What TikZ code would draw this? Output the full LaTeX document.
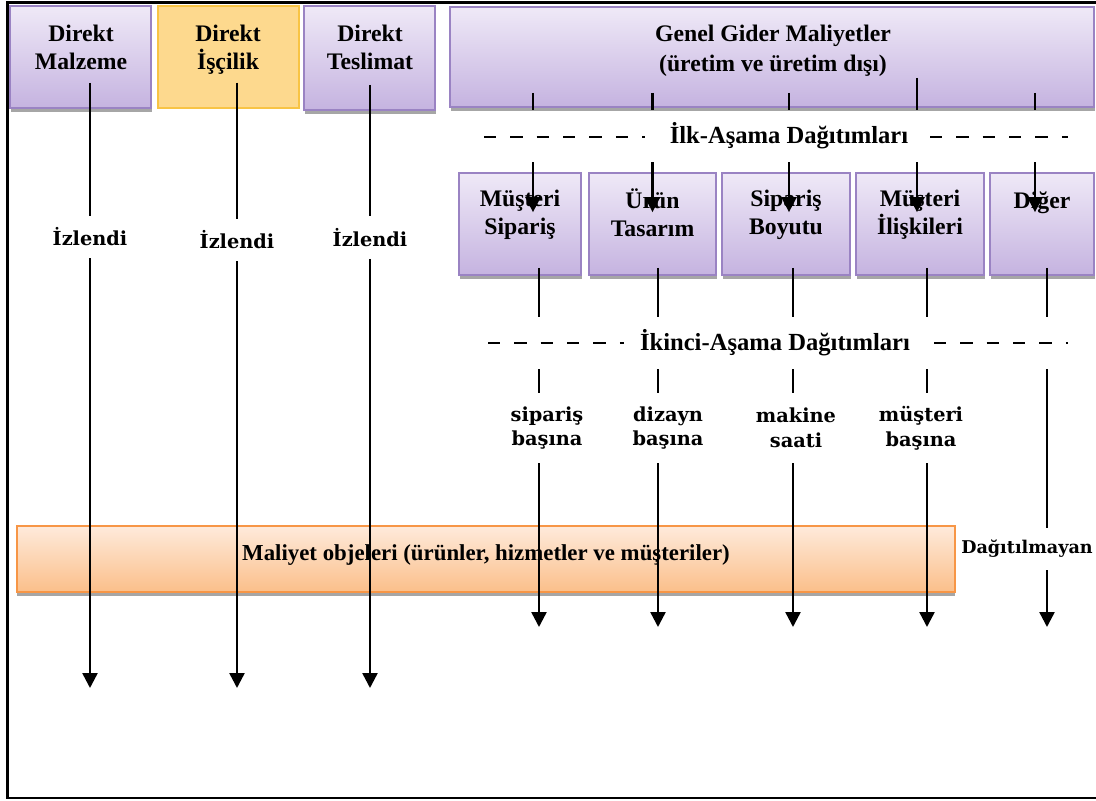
\documentclass[tikz,border=0pt]{standalone}
\usepackage{fontspec}
\setmainfont{Liberation Serif}
\newfontfamily\lblfont{DejaVu Serif}
\usetikzlibrary{arrows.meta,shadows,calc}

\definecolor{purpTop}{HTML}{EFE9F7}
\definecolor{purpBot}{HTML}{C5B3E0}
\definecolor{purpLine}{HTML}{9A83C3}
\definecolor{yelFill}{HTML}{FDD98E}
\definecolor{yelLine}{HTML}{F8C445}
\definecolor{orTop}{HTML}{FEEADB}
\definecolor{orBot}{HTML}{FBBF8A}
\definecolor{orLine}{HTML}{F79646}

\tikzset{
  purpbox/.style={draw=purpLine, line width=1pt, top color=purpTop, bottom color=purpBot,
    drop shadow={shadow xshift=0.6pt, shadow yshift=-2pt, fill=black!35, opacity=1}},
  yelbox/.style={draw=yelLine, line width=0.8pt, fill=yelFill},
  orbox/.style={draw=orLine, line width=1pt, top color=orTop, bottom color=orBot,
    drop shadow={shadow xshift=0pt, shadow yshift=-2.5pt, fill=black!35, opacity=1}},
  boxtext/.style={align=center, font=\bfseries\fontsize{13.5}{16}\selectfont,
    execute at begin node=\strut, execute at end node=\strut},
  bandtext/.style={font=\bfseries\fontsize{14}{16}\selectfont, minimum height=1.04cm},
  lbl/.style={align=center, inner sep=2pt, font=\lblfont\bfseries\fontsize{11}{14}\selectfont},
  dashln/.style={line width=0.9pt, dash pattern=on 7pt off 8pt},
  cline/.style={line width=1.4pt},
  flow/.style={cline, arrows={-Triangle[length=8.5pt, width=8.5pt]}}
}

\begin{document}
\begin{tikzpicture}[x=0.02cm, y=-0.02cm]
\useasboundingbox (0,0) rectangle (1096,801);

% frame
\draw[line width=1.5pt] (1096,2.5) -- (7.5,2.5) -- (7.5,798) -- (1096,798);

% direct costs
\node[purpbox, minimum width=2.82cm, minimum height=2.04cm] (dm) at (80.5,57) {};
\node[yelbox, minimum width=2.82cm, minimum height=2.04cm] (di) at (228.5,57) {};
\node[purpbox, minimum width=2.62cm, minimum height=2.08cm] (dt) at (369.5,58) {};
\node[boxtext] (dmT) at (81,51.5) {Direkt\\Malzeme};
\node[boxtext] (diT) at (228,51.5) {Direkt\\İşçilik};
\node[boxtext] (dtT) at (370,51.5) {Direkt\\Teslimat};

% overhead
\node[purpbox, minimum width=12.88cm, minimum height=2cm] (ggm) at (772,57) {};
\node[boxtext, font=\bfseries\fontsize{13.5}{17}\selectfont] (ggmT) at (773,53)
  {Genel Gider Maliyetler\\(üretim ve üretim dışı)};

% activity cost pools
\node[purpbox, minimum width=2.44cm, minimum height=2.04cm] (ms) at (520,224) {};
\node[purpbox, minimum width=2.54cm, minimum height=2.04cm] (ut) at (652.5,224) {};
\node[purpbox, minimum width=2.56cm, minimum height=2.04cm] (sbo) at (786,224) {};
\node[purpbox, minimum width=2.56cm, minimum height=2.04cm] (mi) at (920,224) {};
\node[purpbox, minimum width=2.08cm, minimum height=2.04cm] (dg) at (1042,224) {};
\node[boxtext] (msT) at (520,216.5) {Müşteri\\Sipariş};
\node[boxtext] (utT) at (652.5,216.5) {Ürün\\Tasarım};
\node[boxtext] (sboT) at (786,216.5) {Sipariş\\Boyutu};
\node[boxtext] (miT) at (920,216.5) {Müşteri\\İlişkileri};
\node[boxtext] (dgT) at (1042,203) {Diğer};

% cost objects
\node[orbox, minimum width=18.76cm, minimum height=1.32cm] (mo) at (486,559) {};
\node[boxtext, font=\bfseries\fontsize{13}{16}\selectfont] (moT) at (486,555)
  {Maliyet objeleri (ürünler, hizmetler ve müşteriler)};

% allocation bands
\node[bandtext] (ilk) at (789,136) {İlk-Aşama Dağıtımları};
\node[bandtext] (ikinci) at (775,343) {İkinci-Aşama Dağıtımları};
\draw[dashln] (484,137) -- (645,137);
\draw[dashln] (930,137) -- (1068,137);
\draw[dashln] (488,343) -- (624,343);
\draw[dashln] (934,343) -- (1068,343);

% labels
\node[lbl, minimum height=0.84cm] (iz1) at (90,237) {İzlendi};
\node[lbl, minimum height=0.84cm] (iz2) at (237,240) {İzlendi};
\node[lbl, minimum height=0.84cm] (iz3) at (370,237.5) {İzlendi};
\node[lbl, minimum height=1.4cm] (sb1) at (547,428) {sipariş\\başına};
\node[lbl, minimum height=1.4cm] (sb2) at (668,428) {dizayn\\başına};
\node[lbl, minimum height=1.4cm] (sb3) at (796,428) {makine\\saati};
\node[lbl, minimum height=1.4cm] (sb4) at (921,428) {müşteri\\başına};
\node[lbl, minimum height=0.84cm, font=\lblfont\bfseries\fontsize{10}{12}\selectfont] (dgl) at (1027,549) {Dağıtılmayan};

\coordinate (bot) at (0,688);
\coordinate (bot2) at (0,627);

% traced costs
\foreach \b/\l in {dm/iz1, di/iz2, dt/iz3}{
  \draw[cline] (\l |- \b.south) ++(0,-26) -- (\l);
  \draw[flow] (\l) -- (\l |- bot);
}

% first stage
\foreach \c/\dx/\dy in {ms/13/15, ut/0/15, sbo/3/15, mi/-3/30, dg/-7/15}{
  \coordinate (t) at ($(\c.north)+(\dx,0)$);
  \draw[cline] (t |- ggm.south) ++(0,-\dy) -- (t |- ilk.north);
  \draw[flow] (t |- ilk.south) -- ($(t)+(0,40)$);
}

% second stage
\foreach \c/\l/\dx in {ms/sb1/-8, ut/sb2/-10, sbo/sb3/-3, mi/sb4/6}{
  \coordinate (u) at ($(\l)+(\dx,0)$);
  \draw[cline] (u |- \c.south) ++(0,-8) -- (u |- ikinci.north);
  \draw[cline] (u |- ikinci.south) -- (u |- \l.north);
  \draw[flow] (u |- \l.south) -- (u |- bot2);
}
\coordinate (dgx) at ($(dg.south)+(5,0)$);
\draw[cline] (dgx) ++(0,-8) -- (dgx |- ikinci.north);
\draw[cline] (dgx |- ikinci.south) -- (dgx |- dgl.north);
\draw[flow] (dgx |- dgl.south) -- (dgx |- bot2);

\end{tikzpicture}
\end{document}
